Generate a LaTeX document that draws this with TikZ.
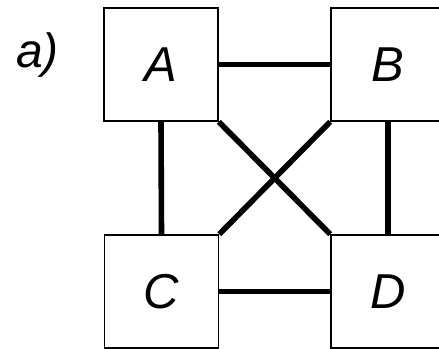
\documentclass[tikz,border=0pt]{standalone}
\usepackage{fontspec}
\setmainfont{Liberation Sans}
\begin{document}
\begin{tikzpicture}[x=1pt,y=-1pt,
  box/.style={draw=black,line width=1.6pt,minimum width=114pt,minimum height=113pt,inner sep=0pt,font=\fontsize{49}{49}\selectfont\itshape},
  link/.style={line width=5.6pt,black}]
\clip (0,0) rectangle (439,348);
\fill[white] (0,0) rectangle (439,348);
\node[box] (A) at (161,64.5) {A};
\node[box] (B) at (388,64.5) {B};
\node[box] (C) at (161.5,291.5) {C};
\node[box] (D) at (388,291.5) {D};
\node[anchor=base west,inner sep=0pt,font=\fontsize{48}{48}\selectfont\itshape] (lab) at (16,67) {a)};
\draw[link] (A.east) -- (B.west);
\draw[link] (C.east) -- (D.west);
\draw[link] (A.south) -- (C.north);
\draw[link] (B.south) -- (D.north);
\draw[link] (A.south east) -- (D.north west);
\draw[link] (B.south west) -- (C.north east);
\end{tikzpicture}
\end{document}
